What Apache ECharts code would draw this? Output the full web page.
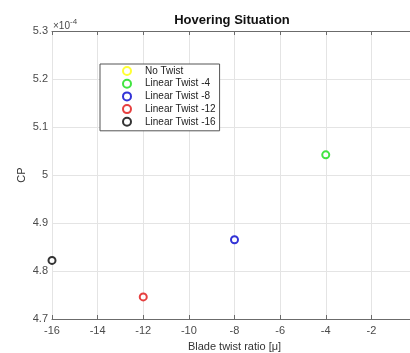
<!DOCTYPE html>
<html>
<head>
<meta charset="utf-8">
<script src="https://cdn.jsdelivr.net/npm/echarts@6/dist/echarts.min.js"></script>
<style>
  html, body { margin: 0; padding: 0; background: #fff; overflow: hidden; }
  #chart { width: 430px; height: 353px; }
</style>
</head>
<body>
<div id="chart"></div>
<script>
// Power coefficient (in units of 1e-4) for each blade twist setting in hover
const seriesNames = ['No Twist', 'Linear Twist -4', 'Linear Twist -8', 'Linear Twist -12', 'Linear Twist -16'];
const seriesColors = ['#ffff00', '#11dd11', '#0000cc', '#e01010', '#000000'];
const twistRatios = [0, -4, -8, -12, -16];
const cpValues = [5.18, 5.042, 4.865, 4.746, 4.822];

const xTicks = { min: -16, max: 0, step: 2 };
const yTicks = { min: 4.7, max: 5.3, step: 0.1 };

const axisColor = '#6b6b6b';
const labelColor = '#4a4a4a';
const gridColor = '#e4e4e4';
const font = 'Liberation Sans, Arial, sans-serif';

const chart = echarts.init(document.getElementById('chart'), null, { renderer: 'canvas' });

const series = seriesNames.map((name, i) => ({
  name: name,
  type: 'scatter',
  symbol: 'emptyCircle',
  symbolSize: 7,
  itemStyle: { color: seriesColors[i], borderColor: seriesColors[i], borderWidth: 2 },
  data: [[twistRatios[i], cpValues[i]]],
  z: 5
}));

const commonX = {
  type: 'value',
  min: xTicks.min, max: xTicks.max, interval: xTicks.step,
  axisLine: { show: true, onZero: false, lineStyle: { color: axisColor, width: 1 } },
  axisTick: { show: true, inside: true, length: 4, lineStyle: { color: axisColor } }
};

chart.setOption({
  animation: false,
  textStyle: { fontFamily: font },
  title: {
    text: 'Hovering Situation',
    left: 227, top: 9, textAlign: 'center',
    textStyle: { fontSize: 13, fontWeight: 'bold', color: '#111', fontFamily: font }
  },
  grid: { left: 52, right: 13, top: 31, bottom: 34, outerBoundsMode: 'none', containLabel: false },
  legend: {
    orient: 'vertical',
    left: 100, top: 64,
    padding: [2, 4, 4, 22],
    itemWidth: 26, itemHeight: 8, itemGap: 2.7,
    borderColor: '#555', borderWidth: 1, backgroundColor: '#fff',
    textStyle: { fontSize: 10, color: '#222', fontFamily: font, lineHeight: 10 },
    data: seriesNames
  },
  xAxis: [
    Object.assign({}, commonX, {
      position: 'bottom',
      name: 'Blade twist ratio [μ]',
      nameLocation: 'middle', nameGap: 22, nameMoveOverlap: false,
      nameTextStyle: { fontSize: 11, color: '#333', fontFamily: font },
      axisLabel: { fontSize: 11, color: labelColor, margin: 6, fontFamily: font },
      splitLine: { show: true, lineStyle: { color: gridColor, width: 1 } }
    }),
    Object.assign({}, commonX, {
      position: 'top',
      axisLabel: { show: false },
      splitLine: { show: false }
    })
  ],
  yAxis: [
    {
      type: 'value',
      min: yTicks.min, max: yTicks.max, interval: yTicks.step,
      name: 'CP', nameLocation: 'middle', nameGap: 25, nameRotate: 90, nameMoveOverlap: false,
      nameTextStyle: { fontSize: 11, color: '#333', fontFamily: font },
      axisLine: { show: true, lineStyle: { color: axisColor, width: 1 } },
      axisTick: { show: true, inside: true, length: 4, lineStyle: { color: axisColor } },
      axisLabel: {
        fontSize: 11, color: labelColor, margin: 4, fontFamily: font,
        formatter: v => Number(v.toFixed(1)).toString()
      },
      splitLine: { show: true, lineStyle: { color: gridColor, width: 1 } }
    },
    {
      type: 'value', position: 'right',
      min: yTicks.min, max: yTicks.max, interval: yTicks.step,
      axisLine: { show: true, lineStyle: { color: axisColor } },
      axisTick: { show: true, inside: true, length: 4, lineStyle: { color: axisColor } },
      axisLabel: { show: false }, splitLine: { show: false }
    }
  ],
  graphic: [{
    type: 'text', left: 53, top: 18,
    style: {
      text: '{b|×10}{s|-4}',
      rich: {
        b: { fontSize: 10, fill: labelColor, fontFamily: font, verticalAlign: 'bottom' },
        s: { fontSize: 8, fill: labelColor, fontFamily: font, verticalAlign: 'top', padding: [0, 0, 5, 0] }
      }
    }
  }],
  series: series
});
</script>
</body>
</html>
